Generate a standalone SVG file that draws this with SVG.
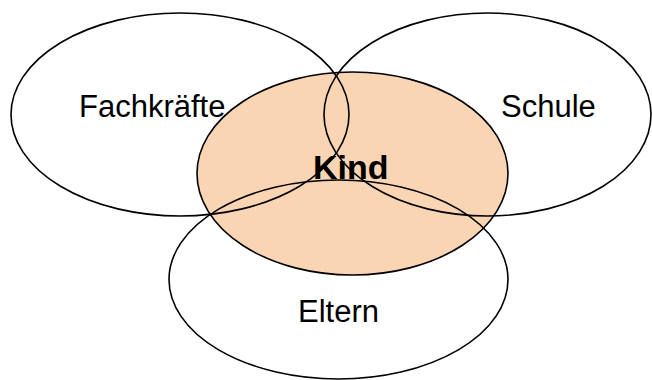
<svg xmlns="http://www.w3.org/2000/svg" width="652" height="380" viewBox="0 0 652 380">
<style>
.e{fill:none;stroke:#000;stroke-width:1.6}
.t{font-family:"Liberation Sans",Arial,sans-serif;font-size:31px;fill:#000}
</style>
<rect width="652" height="380" fill="#fff"/>
<g id="kind-shape"><ellipse cx="352.5" cy="173.5" rx="155.5" ry="101.5" fill="#FAD5B4" stroke="#000" stroke-width="1.6"/></g>
<g id="fachkraefte"><ellipse class="e" cx="180" cy="114.5" rx="169" ry="101.5"/><text class="t" x="79" y="117">Fachkräfte</text></g>
<g id="schule"><ellipse class="e" cx="487.5" cy="114.5" rx="163.5" ry="101.5"/><text class="t" x="501" y="117">Schule</text></g>
<g id="eltern"><ellipse class="e" cx="338.5" cy="279.5" rx="169.5" ry="99.5"/><text class="t" x="298" y="322">Eltern</text></g>
<g id="kind"><text class="t" x="313" y="179" style="font-weight:bold;font-size:34px">Kind</text></g>
<g id="connectors"/>
</svg>
